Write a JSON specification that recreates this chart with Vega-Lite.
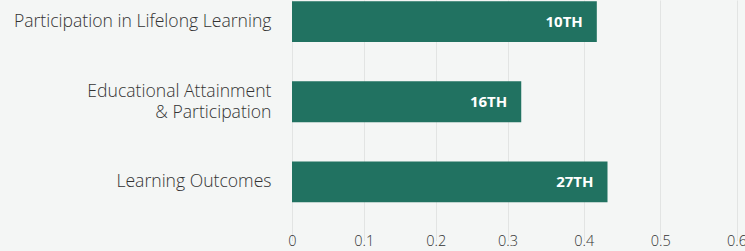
{
  "$schema": "https://vega.github.io/schema/vega-lite/v6.json",
  "autosize": {"type": "none"},
  "padding": {"left": 292, "top": 0, "right": 8, "bottom": 29},
  "width": 445,
  "height": 222,
  "background": "#f4f6f5",
  "config": {
    "view": {"stroke": null},
    "font": "Open Sans"
  },
  "data": {
    "values": [
      {"category": "Participation in Lifelong Learning", "value": 0.417, "rank": "10TH"},
      {"category": "Educational Attainment|& Participation", "value": 0.318, "rank": "16TH"},
      {"category": "Learning Outcomes", "value": 0.431, "rank": "27TH"}
    ]
  },
  "encoding": {
    "y": {
      "field": "category",
      "type": "nominal",
      "sort": null,
      "scale": {"range": [-18.5, 222], "paddingInner": 0.49, "paddingOuter": 0.245},
      "axis": {
        "title": null,
        "domain": false,
        "ticks": false,
        "labelPadding": 21,
        "labelFontSize": 17.6,
        "labelFontWeight": 300,
        "labelColor": "#333333",
        "labelLineHeight": 21,
        "labelLimit": 300,
        "labelOffset": {"condition": {"test": "indexof(datum.value, '|') >= 0", "value": -9.5}, "value": 0},
        "labelExpr": "split(datum.label, '|')"
      }
    },
    "x": {
      "field": "value",
      "type": "quantitative",
      "scale": {"domain": [0, 0.3, 0.6], "range": [0, 215.5, 444.5]},
      "axis": {
        "title": null,
        "values": [0, 0.1, 0.2, 0.3, 0.4, 0.5, 0.6],
        "format": ".1~f",
        "domain": false,
        "ticks": false,
        "grid": true,
        "gridColor": "#e2e4e3",
        "labelFontSize": 14.5,
        "labelFontWeight": 300,
        "labelColor": "#333333",
        "labelPadding": 12,
        "labelFlush": false,
        "labelBound": false,
        "labelOverlap": false
      }
    }
  },
  "layer": [
    {"mark": {"type": "bar", "color": "#217261"}},
    {
      "mark": {"type": "text", "align": "right", "dx": -14, "color": "#ffffff", "fontWeight": "bold", "fontSize": 15},
      "encoding": {"text": {"field": "rank"}}
    }
  ]
}
